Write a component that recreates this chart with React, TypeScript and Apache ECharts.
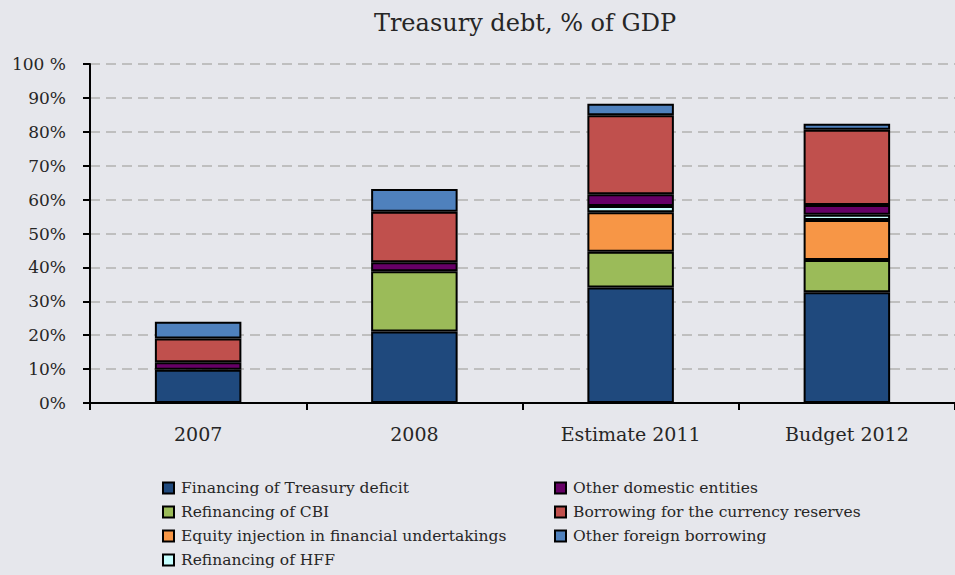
import React, { useEffect, useRef } from "react";
import * as echarts from "echarts";

const categories = ["2007", "2008", "Estimate 2011", "Budget 2012"];
const financing = [9.8, 21.1, 34.1, 32.7];
const refinancingCBI = [0, 17.8, 10.5, 9.5];
const equityInjection = [0, 0, 11.7, 11.8];
const refinancingHFF = [0, 0, 1.8, 1.5];
const otherDomestic = [2.2, 2.6, 3.5, 2.9];
const currencyReserves = [7.0, 14.9, 23.3, 22.2];
const otherForeign = [5.0, 6.7, 3.4, 1.8];

const seriesNames = [
  "Financing of Treasury deficit",
  "Refinancing of CBI",
  "Equity injection in financial undertakings",
  "Refinancing of HFF",
  "Other domestic entities",
  "Borrowing for the currency reserves",
  "Other foreign borrowing",
];
const seriesData = [
  financing,
  refinancingCBI,
  equityInjection,
  refinancingHFF,
  otherDomestic,
  currencyReserves,
  otherForeign,
];
const colors = ["#1F497D", "#9BBB59", "#F79646", "#C6FFFF", "#660066", "#C0504D", "#4F81BD"];
const yTicks = [0, 10, 20, 30, 40, 50, 60, 70, 80, 90, 100];

const FONT = "DejaVu Serif";
const TEXT = "#262626";

export default function App() {
  const ref = useRef<HTMLDivElement>(null);
  useEffect(() => {
    if (!ref.current) return;
    const chart = echarts.init(ref.current, undefined, { renderer: "svg" });
    const legendCommon = {
      orient: "vertical",
      top: 480,
      height: 95,
      padding: 0,
      itemGap: 8,
      itemWidth: 11,
      itemHeight: 11,
      icon: "rect",
      textStyle: { fontFamily: FONT, fontSize: 15.5, color: TEXT, padding: [0, 0, 0, 2] },
    };
    chart.setOption({
      animation: false,
      backgroundColor: "#E6E7EC",
      textStyle: { fontFamily: FONT, color: TEXT },
      title: {
        text: "Treasury debt, % of GDP",
        left: 520,
        textAlign: "center",
        top: 6,
        textStyle: { fontFamily: FONT, fontSize: 24, fontWeight: "normal", color: TEXT },
      },
      grid: { left: 90, top: 64, width: 873, bottom: 172, containLabel: false },
      legend: [
        { ...legendCommon, data: seriesNames.slice(0, 4), left: 162 },
        { ...legendCommon, data: seriesNames.slice(4), left: 554 },
      ],
      xAxis: {
        type: "category",
        data: categories,
        axisLine: { lineStyle: { color: "#000", width: 2 } },
        axisTick: { show: true, length: 7, lineStyle: { color: "#000", width: 2 } },
        axisLabel: { fontFamily: FONT, fontSize: 19, color: TEXT, margin: 21 },
      },
      yAxis: {
        type: "value",
        min: 0,
        max: 100,
        interval: 10,
        axisLine: { show: true, lineStyle: { color: "#000", width: 2 } },
        axisTick: { show: true, length: 7, lineStyle: { color: "#000", width: 2 } },
        axisLabel: {
          fontFamily: FONT,
          fontSize: 17,
          color: TEXT,
          margin: 24,
          formatter: (v: number) => (yTicks.includes(v) ? (v === 100 ? "100 %" : v + "%") : ""),
        },
        splitLine: { show: true, lineStyle: { color: "#BFBFBF", width: 2, type: [10, 6] } },
      },
      series: seriesNames.map((name, i) => ({
        name,
        type: "bar",
        stack: "total",
        barWidth: "40%",
        data: seriesData[i].map((v) => (v === 0 ? "-" : v)),
        itemStyle: { color: colors[i], borderColor: "#000", borderWidth: 2 },
      })),
    });
    return () => chart.dispose();
  }, []);
  return (
    <div
      ref={ref}
      style={{ position: "fixed", left: 0, top: 0, width: 955, height: 575 }}
    />
  );
}
